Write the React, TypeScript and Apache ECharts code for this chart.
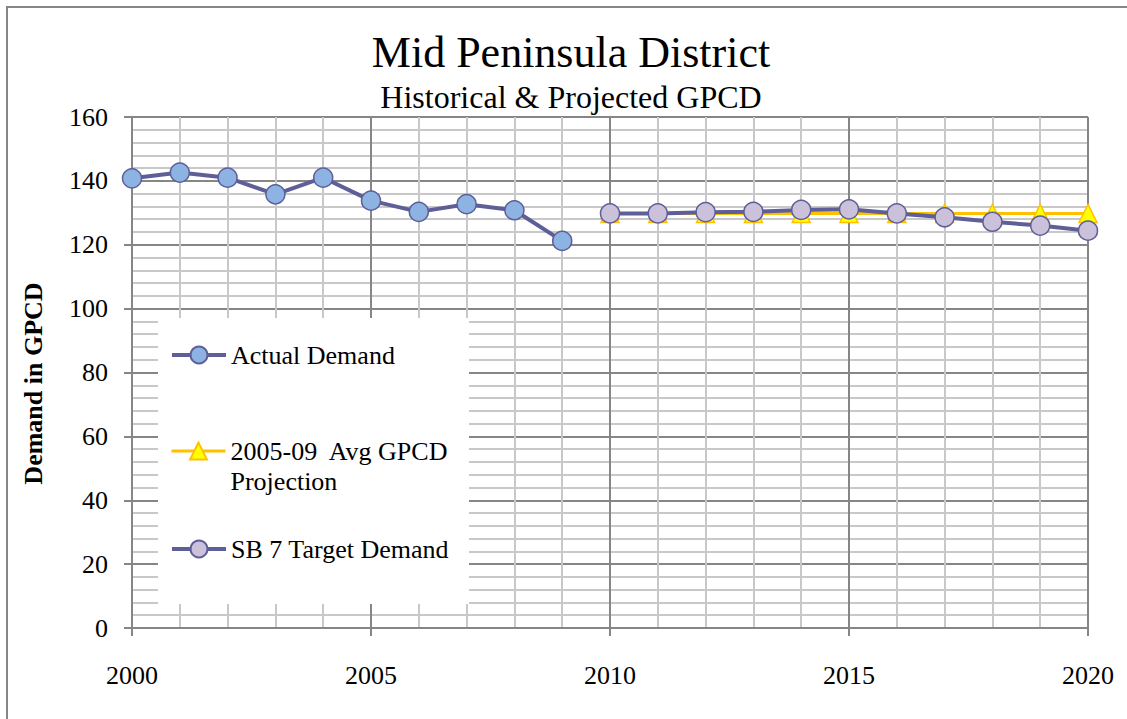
import React, { useEffect, useRef } from "react";
import * as echarts from "echarts";

const actualYears = [2000, 2001, 2002, 2003, 2004, 2005, 2006, 2007, 2008, 2009];
const actualDemand = [140.8, 142.6, 141.0, 135.8, 141.0, 133.8, 130.3, 132.7, 130.8, 121.2];
const projYears = [2010, 2011, 2012, 2013, 2014, 2015, 2016, 2017, 2018, 2019, 2020];
const projection = [129.8, 129.8, 129.8, 129.8, 129.8, 129.8, 129.8, 129.8, 129.8, 129.8, 129.8];
const sb7Target = [129.8, 129.8, 130.2, 130.3, 130.9, 131.1, 129.8, 128.6, 127.2, 126.0, 124.4];

const SERIES_NAMES = ["Actual Demand", "2005-09 Avg GPCD Projection", "SB 7 Target Demand"];
const FONT = "'Liberation Serif', 'Times New Roman', serif";

const zip = (xs: number[], ys: number[]) => xs.map((x, i) => [x, ys[i]]);

export default function App() {
  const ref = useRef<HTMLDivElement>(null);
  useEffect(() => {
    if (!ref.current) return;
    const chart = echarts.init(ref.current, undefined, { renderer: "svg" });
    const legendText = { fontFamily: FONT, fontSize: 26, color: "#000", lineHeight: 30 };
    const mkLegend = (name: string, top: number, lineWidth: number, formatter?: string) => ({
      data: [name],
      left: 170,
      top,
      padding: 0,
      itemWidth: 54,
      itemHeight: 21,
      itemGap: 0,
      textStyle: legendText,
      lineStyle: { width: lineWidth },
      formatter: formatter || "{name}",
      selectedMode: false,
      z: 5,
    });
    chart.setOption({
      animation: false,
      backgroundColor: "#fff",
      title: {
        text: "Mid Peninsula District",
        subtext: "Historical & Projected GPCD",
        left: 571,
        textAlign: "center",
        top: 29,
        itemGap: 6,
        padding: 0,
        textStyle: { fontFamily: FONT, fontSize: 44, fontWeight: "normal", color: "#000", lineHeight: 46 },
        subtextStyle: { fontFamily: FONT, fontSize: 32, color: "#000", lineHeight: 32 },
      },
      legend: [
        mkLegend(SERIES_NAMES[0], 340, 4),
        mkLegend(SERIES_NAMES[1], 406, 3, "\n2005-09  Avg GPCD\nProjection"),
        mkLegend(SERIES_NAMES[2], 534, 4),
      ],
      graphic: [
        {
          type: "rect",
          shape: { x: 7, y: 7, width: 1200, height: 800 },
          style: { fill: "none", stroke: "#868686", lineWidth: 2 },
          z: 10,
          silent: true,
        },
        {
          type: "rect",
          shape: { x: 158, y: 318, width: 311, height: 286 },
          style: { fill: "#fff" },
          z: 3,
          silent: true,
        },
      ],
      grid: { left: 132, right: 39, top: 117, bottom: 91 },
      xAxis: {
        type: "value",
        min: 2000,
        max: 2020,
        interval: 5,
        axisLine: { show: true, lineStyle: { color: "#868686", width: 2 } },
        axisTick: { show: true, length: 8, lineStyle: { color: "#868686", width: 2 } },
        minorTick: { show: false, splitNumber: 5 },
        splitLine: { show: true, lineStyle: { color: "#868686", width: 2 } },
        minorSplitLine: { show: true, lineStyle: { color: "#c8c8c8", width: 2 } },
        axisLabel: {
          fontFamily: FONT,
          fontSize: 26,
          color: "#000",
          margin: 34,
          formatter: (v: number) => String(v),
        },
      },
      yAxis: {
        type: "value",
        min: 0,
        max: 160,
        interval: 20,
        name: "Demand in GPCD",
        nameLocation: "middle",
        nameGap: 86,
        nameTextStyle: { fontFamily: FONT, fontSize: 26, fontWeight: "bold", color: "#000", padding: [0, 22, 0, 0] },
        axisLine: { show: true, lineStyle: { color: "#868686", width: 2 } },
        axisTick: { show: true, length: 8, lineStyle: { color: "#868686", width: 2 } },
        minorTick: { show: false, splitNumber: 5 },
        splitLine: { show: true, lineStyle: { color: "#868686", width: 2 } },
        minorSplitLine: { show: true, lineStyle: { color: "#c8c8c8", width: 2 } },
        axisLabel: { fontFamily: FONT, fontSize: 26, color: "#000", margin: 24 },
      },
      series: [
        {
          name: SERIES_NAMES[0],
          type: "line",
          data: zip(actualYears, actualDemand),
          symbol: "circle",
          symbolSize: 19,
          lineStyle: { color: "#5e5e98", width: 4 },
          itemStyle: { color: "#8db3e2", borderColor: "#5e5e98", borderWidth: 1.5 },
          z: 2,
        },
        {
          name: SERIES_NAMES[1],
          type: "line",
          data: zip(projYears, projection),
          symbol: "triangle",
          symbolSize: 18,
          lineStyle: { color: "#ffc000", width: 3 },
          itemStyle: { color: "#ffff00", borderColor: "#ffc000", borderWidth: 1.5 },
          z: 2,
        },
        {
          name: SERIES_NAMES[2],
          type: "line",
          data: zip(projYears, sb7Target),
          symbol: "circle",
          symbolSize: 19,
          lineStyle: { color: "#5e5e98", width: 4 },
          itemStyle: { color: "#ccc1da", borderColor: "#5e5e98", borderWidth: 1.5 },
          z: 2,
        },
      ],
    });
    return () => chart.dispose();
  }, []);
  return <div ref={ref} style={{ position: "fixed", left: 0, top: 0, width: 1127, height: 719 }} />;
}
